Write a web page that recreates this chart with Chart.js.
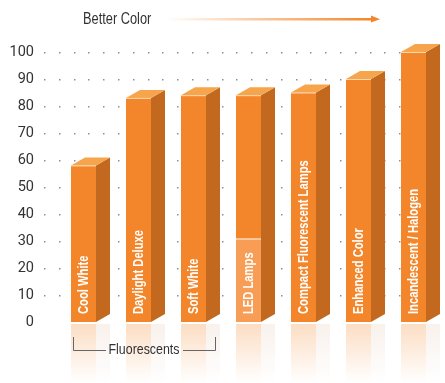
<!DOCTYPE html>
<html>
<head>
<meta charset="utf-8">
<script src="https://cdn.jsdelivr.net/npm/chart.js@4.4.1/dist/chart.umd.min.js"></script>
<style>
  html, body { margin: 0; padding: 0; background: #fff; }
  #chart { display: block; }
</style>
</head>
<body>
<canvas id="chart" width="445" height="383"></canvas>
<script>
const categories = ['Cool White', 'Daylight Deluxe', 'Soft White', 'LED Lamps', 'Compact Fluorescent Lamps', 'Enhanced Color', 'Incandescent / Halogen'];
const colorScores = [58, 83, 84, 84, 85, 90, 100];
// lighter lower band on the LED bar
const ledBand = [0, 0, 0, 31, 0, 0, 0];
const yTickValues = [0, 10, 20, 30, 40, 50, 60, 70, 80, 90, 100];

const FONT = "'Liberation Sans', Arial, sans-serif";
const FRONT = '#f3862a';
const SIDE = '#c3691f';
const TOP = '#f7a54d';
const DEPTH_X = 14;
const DEPTH_Y = 8;
const SQUEEZE = 0.8;

// narrow type look: draw text squeezed horizontally
function squeezedText(ctx, text, x, y, align) {
  ctx.save();
  ctx.translate(x, y);
  ctx.scale(SQUEEZE, 1);
  ctx.textAlign = align;
  ctx.fillText(text, 0, 0);
  ctx.restore();
}

const decorations = {
  id: 'decorations',
  beforeDatasetsDraw(chart) {
    const { ctx, scales: { y } } = chart;
    ctx.save();
    // dotted grid lines, skipping the zero line
    ctx.fillStyle = '#8f8f8f';
    y.ticks.forEach(t => {
      if (t.value === 0) return;
      const py = Math.round(y.getPixelForValue(t.value));
      for (let px = 44; px < 441; px += 14.8) {
        ctx.fillRect(Math.round(px), py, 1.5, 1.5);
      }
    });
    // reflections under the bars
    const meta = chart.getDatasetMeta(0);
    meta.data.forEach(bar => {
      const left = bar.x - bar.width / 2;
      const right = bar.x + bar.width / 2;
      const base = bar.base + 2;
      const g = ctx.createLinearGradient(0, base, 0, 383);
      g.addColorStop(0, 'rgba(243,134,42,0.28)');
      g.addColorStop(1, 'rgba(243,134,42,0)');
      ctx.fillStyle = g;
      ctx.fillRect(left, base, bar.width, 383 - base);
      const gs = ctx.createLinearGradient(0, base, 0, 383);
      gs.addColorStop(0, 'rgba(200,140,100,0.12)');
      gs.addColorStop(1, 'rgba(200,140,100,0)');
      ctx.fillStyle = gs;
      ctx.fillRect(right, base, DEPTH_X, 383 - base);
    });
    ctx.restore();
  },
  afterDatasetsDraw(chart) {
    const { ctx } = chart;
    const meta = chart.getDatasetMeta(0);
    ctx.save();
    meta.data.forEach((bar, i) => {
      const left = bar.x - bar.width / 2;
      const right = bar.x + bar.width / 2;
      const top = bar.y;
      const base = bar.base;
      // side face
      ctx.fillStyle = SIDE;
      ctx.beginPath();
      ctx.moveTo(right, top);
      ctx.lineTo(right + DEPTH_X, top - DEPTH_Y);
      ctx.lineTo(right + DEPTH_X, base - DEPTH_Y);
      ctx.lineTo(right, base);
      ctx.closePath();
      ctx.fill();
      // top face
      ctx.fillStyle = TOP;
      ctx.beginPath();
      ctx.moveTo(left, top);
      ctx.lineTo(left + DEPTH_X, top - DEPTH_Y);
      ctx.lineTo(right + DEPTH_X, top - DEPTH_Y);
      ctx.lineTo(right, top);
      ctx.closePath();
      ctx.fill();
      ctx.strokeStyle = 'rgba(255,225,190,0.9)';
      ctx.lineWidth = 1;
      ctx.beginPath();
      ctx.moveTo(left, top + 0.5);
      ctx.lineTo(right, top + 0.5);
      ctx.stroke();
      // category label inside the front face
      ctx.save();
      ctx.translate(bar.x + 1, base - 8);
      ctx.rotate(-Math.PI / 2);
      ctx.fillStyle = '#fff';
      ctx.font = 'bold 14px ' + FONT;
      ctx.textBaseline = 'middle';
      squeezedText(ctx, categories[i], 0, 0, 'left');
      ctx.restore();
    });

    // header with arrow
    ctx.fillStyle = '#333';
    ctx.font = '16px ' + FONT;
    ctx.textBaseline = 'middle';
    squeezedText(ctx, 'Better Color', 83, 20, 'left');
    const ag = ctx.createLinearGradient(165, 0, 372, 0);
    ag.addColorStop(0, 'rgba(243,134,42,0)');
    ag.addColorStop(1, 'rgba(243,134,42,1)');
    ctx.fillStyle = ag;
    ctx.fillRect(165, 18, 208, 2.5);
    ctx.fillStyle = FRONT;
    ctx.beginPath();
    ctx.moveTo(371, 15.5);
    ctx.lineTo(380, 19.2);
    ctx.lineTo(371, 22.5);
    ctx.closePath();
    ctx.fill();

    // bracket under the fluorescent group
    ctx.strokeStyle = '#666';
    ctx.lineWidth = 1;
    ctx.beginPath();
    ctx.moveTo(73.5, 337);
    ctx.lineTo(73.5, 350.5);
    ctx.lineTo(106, 350.5);
    ctx.moveTo(183, 350.5);
    ctx.lineTo(215.5, 350.5);
    ctx.lineTo(215.5, 337);
    ctx.stroke();
    ctx.fillStyle = '#333';
    ctx.font = '15.5px ' + FONT;
    squeezedText(ctx, 'Fluorescents', 144, 350, 'center');
    ctx.restore();
  }
};

new Chart(document.getElementById('chart'), {
  type: 'bar',
  data: {
    labels: categories,
    datasets: [
      {
        label: 'Color score',
        data: colorScores,
        backgroundColor: FRONT,
        barPercentage: 25 / 55,
        categoryPercentage: 1,
        order: 2,
      },
      {
        label: 'LED band',
        data: ledBand,
        backgroundColor: '#f79d55',
        borderColor: 'rgba(255,255,255,0.9)',
        borderWidth: { top: 1.5, left: 0, right: 0, bottom: 0 },
        borderSkipped: false,
        barPercentage: 25 / 55,
        categoryPercentage: 1,
        grouped: false,
        order: 1,
      },
    ],
  },
  options: {
    responsive: false,
    devicePixelRatio: 1,
    animation: false,
    layout: { padding: { top: 52, right: 4, bottom: 61, left: 0 } },
    plugins: { legend: { display: false }, tooltip: { enabled: false } },
    scales: {
      x: { display: false },
      y: {
        min: 0,
        max: 100,
        afterBuildTicks: scale => { scale.ticks = yTickValues.map(v => ({ value: v })); },
        afterFit: scale => { scale.width = 56; },
        grid: { display: false, drawTicks: false },
        border: { display: false },
        ticks: {
          color: '#333',
          padding: 22,
          font: { family: "Roboto, sans-serif", size: 14.5 },
        },
      },
    },
  },
  plugins: [decorations],
});
</script>
</body>
</html>
